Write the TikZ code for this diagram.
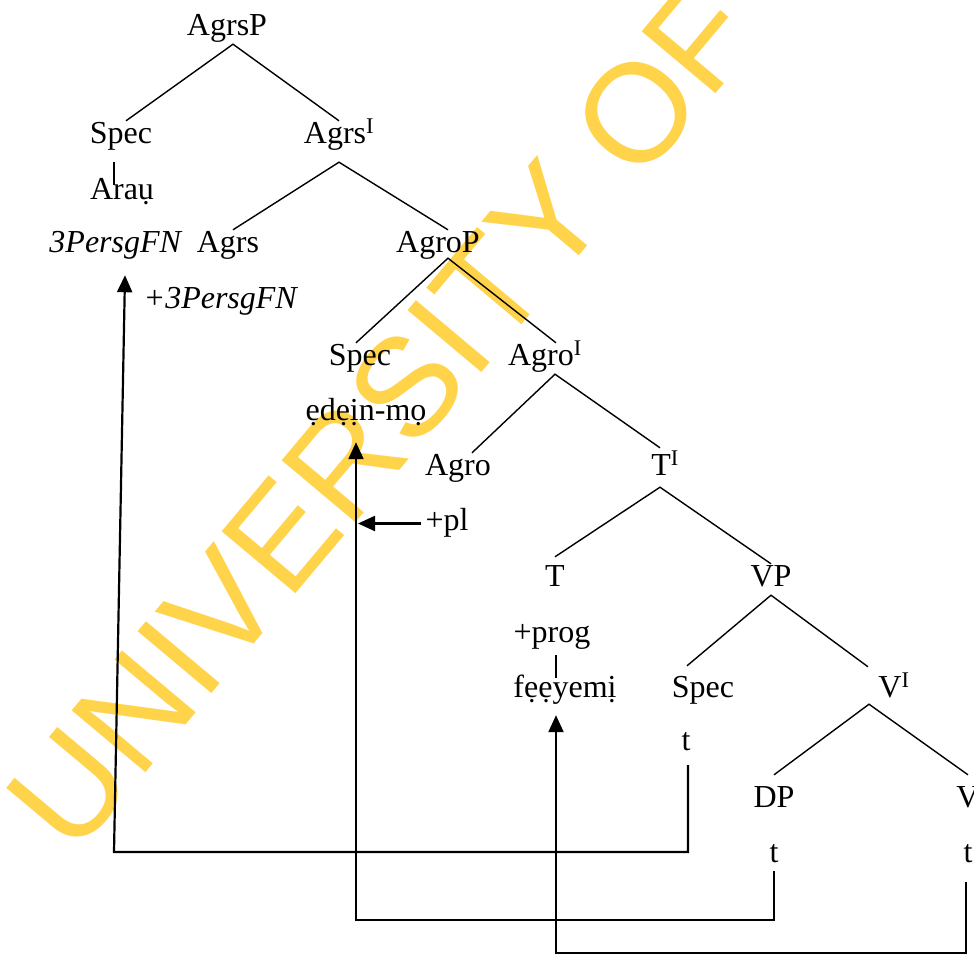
\documentclass[tikz,border=0pt]{standalone}
\usepackage{fontspec}
\setmainfont{Liberation Serif}
\newfontfamily\markfont{Liberation Sans}
\usetikzlibrary{arrows.meta}
\definecolor{markyellow}{RGB}{255,211,74}
\tikzset{
    lbl/.style={inner sep=0pt, anchor=base, text height=22pt, text depth=9pt, font=\fontsize{32}{38}\selectfont},
    branch/.style={line width=1.4pt},
    move/.style={line width=2.2pt, -{Triangle[length=17pt,width=15pt]}},
}
\begin{document}
\begin{tikzpicture}[x=1pt, y=-1pt]
            \useasboundingbox (0,0) rectangle (974,954);
            \node[rotate=50, anchor=base west, inner sep=0pt, text=markyellow, font=\markfont\fontsize{140}{140}\selectfont] (mark) at (73,859) {UNIVERSITY OF};
            \node[lbl] (agrsp) at (227,35) {AgrsP};
            \node[lbl] (spec1) at (121,143) {Spec};
            \node[lbl] (agrsbar) at (339,143) {Agrs\textsuperscript{I}};
            \node[lbl] (arau) at (122,199) {Araụ};
            \node[lbl] (pers) at (116,252) {\textit{3PersgFN}};
            \node[lbl] (agrs) at (228,252) {Agrs};
            \node[lbl] (agrop) at (438,252) {AgroP};
            \node[lbl] (ppers) at (221,308) {\textit{+3PersgFN}};
            \node[lbl] (spec2) at (360,365) {Spec};
            \node[lbl] (agrobar) at (545,365) {Agro\textsuperscript{I}};
            \node[lbl] (edein) at (366,420) {ẹdẹịn-mọ};
            \node[lbl] (agro) at (458,475) {Agro};
            \node[lbl] (tbar) at (665,475) {T\textsuperscript{I}};
            \node[lbl] (pl) at (447,530) {+pl};
            \node[lbl] (tnode) at (555,586) {T};
            \node[lbl] (vp) at (771,586) {VP};
            \node[lbl] (prog) at (552,642) {+prog};
            \node[lbl] (feyemi) at (565,697) {fẹẹyemị};
            \node[lbl] (spec3) at (703,697) {Spec};
            \node[lbl] (vbar) at (894,697) {V\textsuperscript{I}};
            \node[lbl] (t1) at (686,750) {t};
            \node[lbl] (dp) at (774,807) {DP};
            \node[lbl] (vnode) at (968,807) {V};
            \node[lbl] (t2) at (774,862) {t};
            \node[lbl] (t3) at (968,862) {t};
            \draw[branch] ([xshift=5pt]spec1.north) -- ([xshift=6pt]agrsp.south) -- (agrsbar.north);
            \draw[branch] ([xshift=5pt]agrs.north) -- ([yshift=-10pt]agrsbar.south) -- ([xshift=10pt]agrop.north);
            \draw[branch] ([xshift=-4pt]spec2.north) -- ([xshift=10pt,yshift=3pt]agrop.south) -- ([xshift=11pt]agrobar.north);
            \draw[branch] ([xshift=14pt]agro.north) -- ([xshift=10pt]agrobar.south) -- ([xshift=-5pt,yshift=5pt]tbar.north);
            \draw[branch] ([yshift=7pt]tnode.north) -- ([xshift=-5pt,yshift=-3pt]tbar.south) -- (vp.north);
            \draw[branch] ([xshift=-16pt,yshift=9pt]spec3.north) -- (vp.south) -- ([xshift=-26pt,yshift=8pt]vbar.north);
            \draw[branch] ([yshift=10pt]dp.north) -- ([xshift=-25pt,yshift=2pt]vbar.south) -- ([yshift=10pt]vnode.north);
            \draw[branch] ([xshift=-7pt,yshift=-10pt]spec1.south) -- ([xshift=-8pt,yshift=-8pt]arau.north);
            \draw[branch] ([xshift=4pt,yshift=-4pt]prog.south) -- ([xshift=-9pt,yshift=-3pt]feyemi.north);
            \coordinate (c1) at (114,852);
            \coordinate (c2) at (356,920);
            \coordinate (c3) at (556,953);
            \draw[move, shorten <=6pt] ([xshift=2pt]t1.south) |- (c1) -- ([xshift=9pt,yshift=-14pt]pers.south);
            \draw[move] (t2.south) |- (c2) -- ([xshift=-10pt,yshift=-13pt]edein.south);
            \draw[move, shorten <=11pt] ([xshift=-2pt]t3.south) |- (c3) -- ([xshift=-9pt,yshift=-9pt]feyemi.south);
            \draw[move, shorten >=2pt] ([xshift=-4pt]pl.west) -- (pl.west -| c2);
        \end{tikzpicture}
\end{document}
